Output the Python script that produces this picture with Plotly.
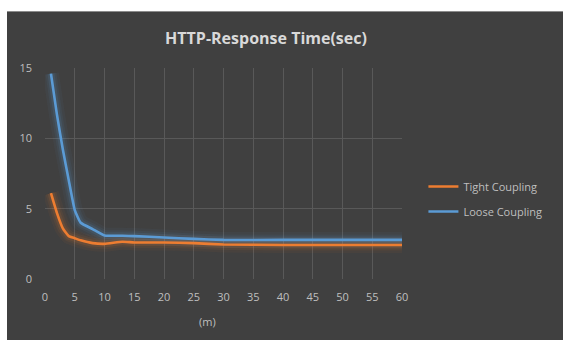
import plotly.graph_objects as go

# Minutes elapsed and measured HTTP response times (seconds)
minutes = [1, 2, 3, 4, 5, 6, 8, 10, 13, 15, 20, 25, 30, 40, 50, 60]
tight_coupling = [6.1, 4.7, 3.6, 3.05, 2.9, 2.75, 2.55, 2.5, 2.65, 2.6, 2.6, 2.55, 2.45, 2.42, 2.42, 2.42]
loose_coupling = [14.6, 11.7, 9.2, 7.0, 4.9, 4.0, 3.55, 3.1, 3.07, 3.05, 2.95, 2.85, 2.78, 2.78, 2.78, 2.78]

x_ticks = list(range(0, 61, 5))
y_ticks = [0, 5, 10, 15]

series = [
    ("Tight Coupling", tight_coupling, "#ED7D31", "rgba(237,125,49,{a})"),
    ("Loose Coupling", loose_coupling, "#5B9BD5", "rgba(91,155,213,{a})"),
]

BG = "#404040"
GRID = "#595959"
TEXT = "#BFBFBF"
FONT = "Open Sans"

fig = go.Figure()

# soft glow underneath each line
for name, vals, color, rgba in series:
    for w, a in [(16, 0.05), (11, 0.07), (7, 0.12)]:
        fig.add_trace(go.Scatter(
            x=minutes, y=vals, mode="lines",
            line=dict(color=rgba.format(a=a), width=w, shape="spline", smoothing=0.4),
            showlegend=False, hoverinfo="skip",
        ))

for name, vals, color, rgba in series:
    fig.add_trace(go.Scatter(
        x=minutes, y=vals, mode="lines", name=name, legendgroup=name,
        line=dict(color=color, width=2.6, shape="spline", smoothing=0.4),
    ))

fig.update_layout(
    width=563, height=340,
    margin=dict(l=45, r=161, t=68, b=61),
    paper_bgcolor=BG, plot_bgcolor=BG,
    font=dict(family=FONT, color=TEXT, size=11),
    title=dict(
        text="<b>HTTP-Response Time(sec)</b>",
        x=266 / 563, xanchor="center", y=1 - 38 / 340, yanchor="middle",
        font=dict(family=FONT, size=16, color="#D9D9D9"),
    ),
    xaxis=dict(
        range=[0, 60], tickvals=x_ticks, ticktext=[str(v) for v in x_ticks],
        showgrid=True, gridcolor=GRID, gridwidth=1,
        zeroline=False, showline=False, ticks="", ticklabelstandoff=10,
        tickfont=dict(size=11, color=TEXT),
    ),
    yaxis=dict(
        range=[0, 15], tickvals=y_ticks, ticktext=[str(v) for v in y_ticks],
        showgrid=True, gridcolor=GRID, gridwidth=1,
        zeroline=False, showline=False, ticks="", ticklabelstandoff=12,
        tickfont=dict(size=11, color=TEXT),
    ),
    legend=dict(
        x=1.06, xanchor="left", y=1 - (199 - 68) / 211, yanchor="middle",
        bgcolor="rgba(0,0,0,0)", font=dict(size=11, color=TEXT),
        traceorder="grouped", tracegroupgap=6,
    ),
    showlegend=True,
)

# axis caption below the x ticks
fig.add_annotation(
    text="(m)", xref="paper", yref="paper",
    x=(207 - 45) / 357, y=-(321 - 279) / 211,
    xanchor="center", yanchor="middle", showarrow=False,
    font=dict(size=11, color=TEXT),
)

# white page margin around the dark chart panel (top and left)
fig.add_shape(type="rect", xref="paper", yref="paper",
              x0=-0.2, x1=1.5, y0=1 + 57 / 211, y1=1.5,
              fillcolor="white", line=dict(width=0), layer="above")
fig.add_shape(type="rect", xref="paper", yref="paper",
              x0=-0.2, x1=(7 - 45) / 357, y0=-0.5, y1=1.5,
              fillcolor="white", line=dict(width=0), layer="above")
fig.add_shape(type="line", xref="paper", yref="paper",
              x0=(7 - 45) / 357, x1=1.5, y0=1 + 56.5 / 211, y1=1 + 56.5 / 211,
              line=dict(color="#8C8C8C", width=1), layer="above")

fig.write_html("out.html")
